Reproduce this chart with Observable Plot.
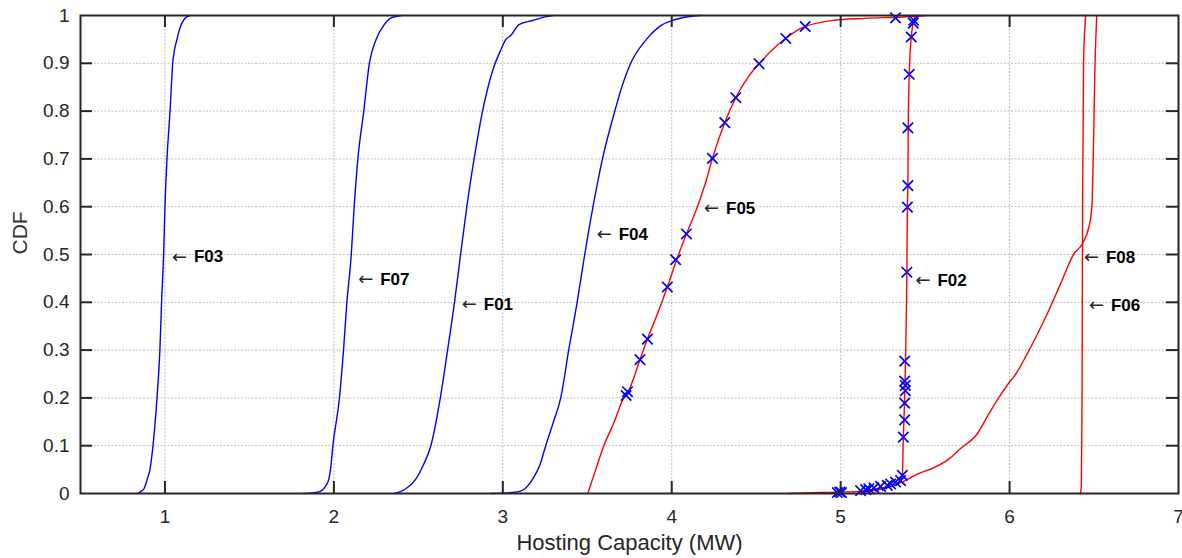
<!DOCTYPE html>
<html><head><meta charset="utf-8">
<script src="https://cdn.jsdelivr.net/npm/d3@7"></script>
<script src="https://cdn.jsdelivr.net/npm/@observablehq/plot@0.6"></script>
<style>body{margin:0;background:#fff}</style>
</head><body><div id="chart"></div><script>
// x = hosting capacity (MW), y = CDF
const F03 = [[0.84,0],[0.86,0.005],[0.876,0.01],[0.895,0.03],[0.911,0.05],[0.929,0.1],[0.953,0.2],[0.97,0.3],[0.98,0.4],[0.992,0.5],[1.0,0.6],[1.012,0.7],[1.03,0.8],[1.046,0.9],[1.071,0.95],[1.095,0.98],[1.12,0.995],[1.148,1.0]];
const F07 = [[1.82,0],[1.9,0.003],[1.923,0.005],[1.95,0.015],[1.97,0.03],[1.98,0.05],[1.994,0.1],[2.033,0.2],[2.057,0.3],[2.077,0.4],[2.103,0.5],[2.12,0.6],[2.142,0.7],[2.177,0.8],[2.21,0.9],[2.25,0.95],[2.296,0.98],[2.34,0.995],[2.40,1.0]];
const F01 = [[2.355,0],[2.4,0.005],[2.426,0.01],[2.485,0.03],[2.53,0.06],[2.574,0.1],[2.63,0.2],[2.673,0.3],[2.714,0.4],[2.75,0.5],[2.787,0.6],[2.83,0.7],[2.88,0.8],[2.94,0.885],[2.988,0.928],[3.018,0.95],[3.047,0.958],[3.096,0.981],[3.18,0.99],[3.25,0.997],[3.296,1.0]];
const F04 = [[2.93,0],[3.05,0.002],[3.106,0.005],[3.177,0.03],[3.22,0.06],[3.254,0.1],[3.30,0.15],[3.343,0.2],[3.39,0.3],[3.44,0.4],[3.485,0.5],[3.534,0.6],[3.59,0.7],[3.663,0.8],[3.698,0.843],[3.757,0.9],[3.85,0.95],[3.94,0.98],[4.006,0.99],[4.13,0.999],[4.17,1.0]];
const F05 = [[3.503,0],[3.55,0.05],[3.598,0.1],[3.66,0.15],[3.716,0.2],[3.738,0.21],[3.812,0.28],[3.856,0.323],[3.92,0.38],[3.974,0.432],[4.028,0.488],[4.087,0.543],[4.152,0.6],[4.20,0.65],[4.241,0.701],[4.314,0.776],[4.379,0.828],[4.45,0.87],[4.517,0.899],[4.6,0.93],[4.675,0.952],[4.763,0.973],[4.96,0.99],[5.14,0.994],[5.37,0.997],[5.51,1.0]];
const F02 = [[4.69,0],[4.88,0.002],[5.0,0.003],[5.12,0.005],[5.25,0.012],[5.33,0.02],[5.365,0.035],[5.371,0.118],[5.379,0.2],[5.385,0.3],[5.392,0.463],[5.395,0.6],[5.398,0.644],[5.40,0.765],[5.406,0.877],[5.418,0.955],[5.43,0.985],[5.44,1.0]];
const F08 = [[5.12,0.003],[5.25,0.01],[5.37,0.025],[5.45,0.04],[5.552,0.054],[5.64,0.072],[5.71,0.094],[5.809,0.125],[5.878,0.167],[5.935,0.2],[6.006,0.236],[6.025,0.244],[6.104,0.292],[6.16,0.33],[6.223,0.376],[6.302,0.439],[6.38,0.501],[6.43,0.522],[6.469,0.557],[6.483,0.585],[6.489,0.613],[6.495,0.7],[6.506,0.9],[6.516,1.0]];
const F06 = [[6.42,0],[6.425,0.02],[6.429,0.2],[6.432,0.6],[6.438,0.9],[6.445,0.97],[6.45,1.0]];

const seriesNames  = ["F03","F07","F01","F04","F05","F02","F08","F06"];
const seriesData   = [F03, F07, F01, F04, F05, F02, F08, F06];
const seriesColors = ["#0000ff","#0000ff","#0000ff","#0000ff","#ff0000","#ff0000","#ff0000","#ff0000"];

// blue x markers
const markerX = [3.73,3.738,3.812,3.856,3.974,4.023,4.087,4.241,4.314,4.379,4.517,4.675,4.79,
  4.98,4.995,5.005,5.118,5.148,5.167,5.197,5.236,5.276,5.296,5.325,5.355,5.365,
  5.371,5.379,5.379,5.383,5.383,5.379,5.379,5.392,5.395,5.398,5.398,5.406,5.418,5.43,5.432,5.325];
const markerY = [0.205,0.213,0.28,0.323,0.432,0.489,0.543,0.701,0.776,0.828,0.899,0.952,0.977,
  0.002,0.003,0.002,0.006,0.008,0.01,0.012,0.015,0.017,0.02,0.024,0.027,0.038,
  0.118,0.154,0.189,0.215,0.226,0.235,0.277,0.463,0.599,0.644,0.765,0.877,0.955,0.984,0.99,0.995];

// curve annotations
const labelNames = ["F03","F07","F01","F04","F05","F02","F08","F06"];
const labelX = [1.041,2.144,2.757,3.556,4.191,5.443,6.44,6.47];
const labelY = [0.495,0.448,0.395,0.542,0.596,0.446,0.494,0.393];

const xTicks = [1,2,3,4,5,6,7];
const yTicks = [0,0.1,0.2,0.3,0.4,0.5,0.6,0.7,0.8,0.9,1];
const xGrid = [1,2,3,4,5,6];
const yGrid = [0.1,0.2,0.3,0.4,0.5,0.6,0.7,0.8,0.9];
const xLabel = "Hosting Capacity (MW)";
const yLabel = "CDF";

const curves = seriesData.flatMap((pts, i) => pts.map(([x, y]) => ({name: seriesNames[i], color: seriesColors[i], x, y})));
const markers = markerX.map((x, i) => ({x, y: markerY[i]}));
const labels = labelNames.map((name, i) => ({name, x: labelX[i], y: labelY[i]}));

const font = "'Liberation Sans', Arial, Helvetica, sans-serif";
const ink = "#262626";
const W = 1182, H = 558, mL = 80, mR = 4, mT = 15, mB = 65, tickPx = 12;
const xDom = [0.5, 7], yDom = [0, 1];
const innerW = W - mL - mR, innerH = H - mT - mB;
// tick length (12 px) expressed in each scale's units
const tx = tickPx / innerW * (xDom[1] - xDom[0]);
const ty = tickPx / innerH * (yDom[1] - yDom[0]);

const chart = Plot.plot({
  width: W, height: H,
  marginLeft: mL, marginRight: mR, marginTop: mT, marginBottom: mB,
  style: {fontFamily: font, fontSize: "19px", color: ink, background: "#fff", overflow: "visible"},
  x: {domain: xDom},
  y: {domain: yDom},
  color: {type: "identity"},
  marks: [
    Plot.gridX(xGrid, {stroke: "#bdbdbd", strokeOpacity: 1, strokeWidth: 1, strokeDasharray: "2,1.5"}),
    Plot.gridY(yGrid, {stroke: "#bdbdbd", strokeOpacity: 1, strokeWidth: 1, strokeDasharray: "2,1.5"}),
    Plot.line(curves, {x: "x", y: "y", z: "name", stroke: "color", strokeWidth: 1.4, curve: "monotone-x"}),
    Plot.dot(markers, {x: "x", y: "y", symbol: "times", stroke: "#0000ff", r: 4.8, strokeWidth: 1.7}),
    Plot.text(labels, {x: "x", y: "y", text: () => "\u2190", textAnchor: "start", fontSize: 18, fontFamily: "'DejaVu Sans', sans-serif", fill: ink}),
    Plot.text(labels, {x: "x", y: "y", text: "name", dx: 22, textAnchor: "start", fontSize: 17, fontWeight: "bold", fill: "#000"}),
    // inward tick marks on all four sides
    Plot.ruleX(xGrid, {x: d => d, y1: yDom[0], y2: yDom[0] + ty, stroke: ink, strokeWidth: 2}),
    Plot.ruleX(xGrid, {x: d => d, y1: yDom[1] - ty, y2: yDom[1], stroke: ink, strokeWidth: 2}),
    Plot.ruleY(yGrid, {y: d => d, x1: xDom[0], x2: xDom[0] + tx, stroke: ink, strokeWidth: 2}),
    Plot.ruleY(yGrid, {y: d => d, x1: xDom[1] - tx, x2: xDom[1], stroke: ink, strokeWidth: 2}),
    Plot.frame({stroke: ink, strokeWidth: 2}),
    Plot.axisX(xTicks, {anchor: "bottom", tickSize: 0, tickPadding: 16, fill: ink, label: null, fontSize: 19, tickFormat: d => String(d)}),
    Plot.axisY(yTicks, {anchor: "left", tickSize: 0, tickPadding: 11, fill: ink, label: null, fontSize: 19, tickFormat: d => String(d)}),
    Plot.text([xLabel], {frameAnchor: "bottom", dy: 56, fontSize: 22, fill: ink}),
    Plot.text([yLabel], {frameAnchor: "left", dx: -60, rotate: -90, fontSize: 21, fill: "#333"})
  ]
});
document.getElementById("chart").appendChild(chart);
</script></body></html>
